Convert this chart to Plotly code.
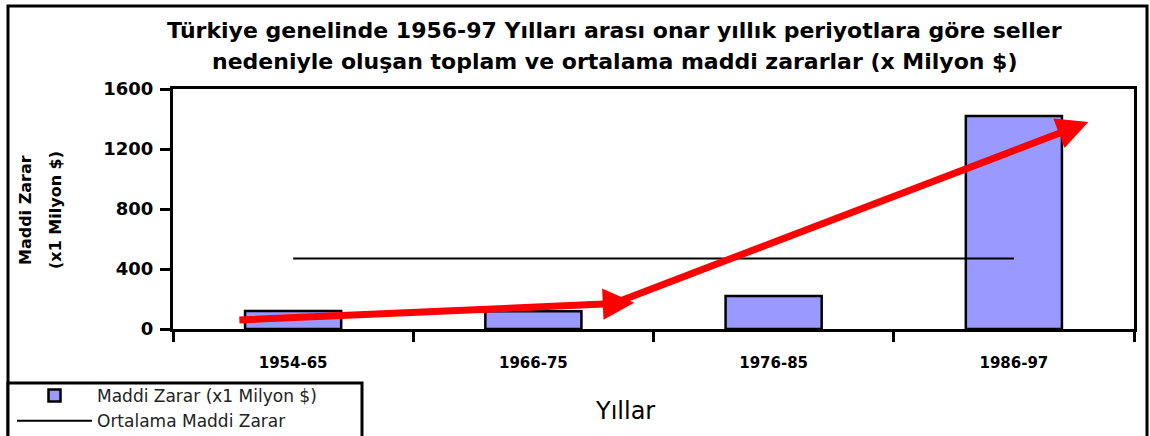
import plotly.graph_objects as go

# -----------------------------
# Datos
# -----------------------------
donemler = ["1954-65", "1966-75", "1976-85", "1986-97"]
maddi_zarar = [120, 118, 220, 1420]
ortalama_zarar = [470, 470, 470, 470]
y_ticks = [0, 400, 800, 1200, 1600]

baslik = [
    "Türkiye genelinde 1956-97 Yılları arası onar yıllık periyotlara göre seller",
    "nedeniyle oluşan toplam ve ortalama maddi zararlar (x Milyon $)",
]
y_baslik = ["Maddi Zarar", "(x1 Milyon $)"]

# trend arrows (category index, value)
ok1 = dict(x0=-0.23, y0=60, x1=1.42, y1=175)
ok2 = dict(x0=1.30, y0=150, x1=3.31, y1=1380)

W, H = 1150, 436
L, R, T, B = 173, 16, 89, 107
pw, ph = W - L - R, H - T - B


def px_x(p):
    return (p - L) / pw


def px_y(p):
    return (H - B - p) / ph


fig = go.Figure()

fig.add_trace(go.Bar(
    x=donemler,
    y=maddi_zarar,
    name="Maddi Zarar (x1 Milyon $)",
    marker=dict(color="#9999ff", line=dict(color="black", width=2.5)),
))

fig.add_trace(go.Scatter(
    x=donemler,
    y=ortalama_zarar,
    mode="lines",
    name="Ortalama Maddi Zarar",
    line=dict(color="black", width=2),
))

for ok in (ok1, ok2):
    fig.add_annotation(
        x=ok["x1"], y=ok["y1"], ax=ok["x0"], ay=ok["y0"],
        xref="x", yref="y", axref="x", ayref="y",
        showarrow=True, arrowhead=2, arrowsize=0.9, arrowwidth=7,
        arrowcolor="#ff0000", text="",
    )

# outer frame
fig.add_shape(type="rect", xref="paper", yref="paper",
              x0=px_x(8), x1=px_x(1147), y0=px_y(470), y1=px_y(6),
              line=dict(color="black", width=3), layer="below")

# legend box
fig.add_shape(type="rect", xref="paper", yref="paper",
              x0=px_x(8), x1=px_x(362), y0=px_y(470), y1=px_y(383),
              line=dict(color="black", width=3), fillcolor="white",
              layer="below")

# title lines
for txt, yy in zip(baslik, (30, 62)):
    fig.add_annotation(
        text=txt, xref="paper", yref="paper",
        x=px_x(614), y=px_y(yy), xanchor="center", yanchor="middle",
        showarrow=False,
        font=dict(size=22, color="black", family="DejaVu Sans", weight="bold"),
    )

# y-axis title lines
for txt, xx in zip(y_baslik, (25, 55)):
    fig.add_annotation(
        text=txt, xref="paper", yref="paper",
        x=px_x(xx), y=px_y(210), xanchor="center", yanchor="middle",
        textangle=-90, showarrow=False,
        font=dict(size=16, color="black", family="DejaVu Sans", weight="bold"),
    )

fig.add_annotation(
    text="Yıllar", xref="paper", yref="paper",
    x=px_x(625), y=px_y(411), xanchor="center", yanchor="middle",
    showarrow=False,
    font=dict(size=24, color="black", family="DejaVu Sans"),
)

fig.update_layout(
    width=W, height=H,
    margin=dict(l=L, r=R, t=T, b=B, autoexpand=False),
    paper_bgcolor="white",
    plot_bgcolor="white",
    bargap=0.6,
    showlegend=True,
    font=dict(family="DejaVu Sans", color="black"),
    xaxis=dict(
        range=[-0.5, 3.5],
        showline=True, linecolor="black", linewidth=3, mirror=True,
        ticks="outside", tickson="boundaries", ticklen=10, tickwidth=2.5,
        tickcolor="black", ticklabelstandoff=18,
        tickfont=dict(size=15, family="DejaVu Sans", weight="bold"),
        showgrid=False, zeroline=False, automargin=False,
    ),
    yaxis=dict(
        range=[0, 1600],
        tickvals=y_ticks,
        showline=True, linecolor="black", linewidth=3, mirror=True,
        ticks="outside", ticklen=10, tickwidth=2.5, tickcolor="black",
        ticklabelstandoff=3,
        tickfont=dict(size=18, family="DejaVu Sans", weight="bold"),
        showgrid=False, zeroline=False,
        automargin=False,
    ),
    legend=dict(
        x=px_x(12), y=px_y(378), xanchor="left", yanchor="top",
        borderwidth=0,
        bgcolor="rgba(0,0,0,0)",
        font=dict(size=17, family="DejaVu Sans", color="#222"),
        tracegroupgap=0, itemwidth=75,
    ),
)

fig.write_html("out.html", config={"displayModeBar": False},
               post_script="document.body.style.margin='0';")
